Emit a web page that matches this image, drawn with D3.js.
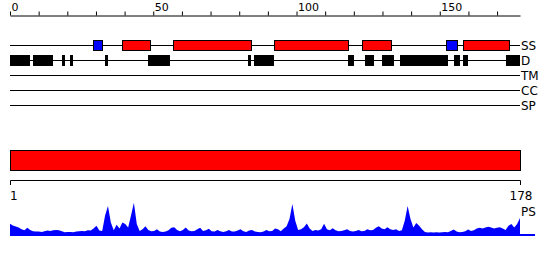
<!DOCTYPE html>
<html>
<head>
<meta charset="utf-8">
<script src="https://cdn.jsdelivr.net/npm/d3@7"></script>
<style>
  body { margin: 0; background: #fff; }
  svg { display: block; font-family: "DejaVu Sans", sans-serif; }
</style>
</head>
<body>
<svg id="chart" width="550" height="260"></svg>
<script>
// sequence length and axis ticks
const seqLength = 178;
const tickValues = d3.range(0, 178, 10);
const tickLabels = [0, 50, 100, 150];

// track names
const tracks = ["SS", "D", "TM", "CC", "SP"];

// secondary structure segments [start, end, type]
const ssStrand = [[29, 32], [152, 156]];
const ssHelix = [[39, 49], [57, 84], [92, 118], [123, 133], [158, 174]];

// disorder segments [start, end]
const disorder = [[0, 7], [8, 15], [18, 19], [21, 22], [33, 34], [48, 56], [83, 84], [85, 92],
  [118, 120], [124, 127], [130, 134], [136, 153], [155, 157], [158, 160], [173, 178]];

// whole-length domain bar
const domainBar = [[0, 178]];
const rangeLabels = ["1", "178"];

// per-residue PS profile, residues 1..178
const psScores = [
  0.36, 0.31, 0.28, 0.25, 0.20, 0.17, 0.24, 0.18, 0.14, 0.13,
  0.13, 0.12, 0.14, 0.16, 0.15, 0.17, 0.18, 0.17, 0.14, 0.11,
  0.12, 0.12, 0.11, 0.13, 0.14, 0.15, 0.14, 0.17, 0.16, 0.22,
  0.30, 0.16, 0.15, 0.60, 0.88, 0.40, 0.17, 0.33, 0.22, 0.40,
  0.35, 0.25, 0.60, 0.98, 0.35, 0.15, 0.20, 0.29, 0.18, 0.14,
  0.15, 0.20, 0.13, 0.12, 0.13, 0.17, 0.24, 0.26, 0.18, 0.14,
  0.18, 0.25, 0.16, 0.14, 0.15, 0.20, 0.24, 0.15, 0.17, 0.21,
  0.14, 0.13, 0.18, 0.14, 0.12, 0.14, 0.18, 0.13, 0.13, 0.16,
  0.20, 0.14, 0.12, 0.16, 0.18, 0.13, 0.12, 0.11, 0.13, 0.18,
  0.14, 0.15, 0.22, 0.20, 0.14, 0.22, 0.29, 0.50, 0.94, 0.45,
  0.18, 0.20, 0.26, 0.37, 0.22, 0.15, 0.18, 0.16, 0.20, 0.36,
  0.20, 0.17, 0.23, 0.17, 0.14, 0.15, 0.17, 0.20, 0.15, 0.13,
  0.15, 0.18, 0.14, 0.15, 0.20, 0.17, 0.18, 0.24, 0.29, 0.22,
  0.20, 0.26, 0.20, 0.18, 0.20, 0.15, 0.17, 0.45, 0.88, 0.50,
  0.25, 0.38, 0.30, 0.20, 0.12, 0.10, 0.11, 0.10, 0.11, 0.10,
  0.11, 0.12, 0.11, 0.15, 0.19, 0.13, 0.11, 0.12, 0.14, 0.19,
  0.15, 0.17, 0.22, 0.24, 0.22, 0.25, 0.27, 0.25, 0.22, 0.24,
  0.26, 0.22, 0.18, 0.30, 0.35, 0.25, 0.35, 0.53
];

const svg = d3.select("#chart");

const x = d3.scaleLinear().domain([0, seqLength]).range([10, 520]);
const trackY = d3.scalePoint().domain(tracks).range([45.5, 105.5]);

// top ruler
const ruler = svg.append("g")
  .attr("transform", "translate(0,15.5)")
  .call(d3.axisTop(x)
    .tickValues(tickValues)
    .tickSize(4)
    .tickSizeOuter(0)
    .tickFormat(d => tickLabels.includes(d) ? d : ""));
ruler.select(".domain").attr("stroke", "#000");
ruler.selectAll(".tick line").attr("stroke", "#000");
ruler.selectAll(".tick text")
  .attr("text-anchor", "start")
  .attr("x", 1)
  .attr("y", -5)
  .attr("fill", "#000")
  .style("font-size", "11px")
  .style("font-family", "DejaVu Sans");

// track lines and labels
const trackG = svg.append("g");
trackG.selectAll("line")
  .data(tracks)
  .join("line")
  .attr("x1", x(0))
  .attr("x2", x(seqLength))
  .attr("y1", d => trackY(d))
  .attr("y2", d => trackY(d))
  .attr("stroke", "#000");
trackG.selectAll("text")
  .data(tracks)
  .join("text")
  .attr("x", x(seqLength) + 1)
  .attr("y", d => trackY(d) + 4.5)
  .style("font-size", "12px")
  .text(d => d);

// SS boxes
svg.append("g").selectAll("rect")
  .data(ssStrand.map(d => ({ s: d[0], e: d[1], c: "#0000ff" }))
    .concat(ssHelix.map(d => ({ s: d[0], e: d[1], c: "#ff0000" }))))
  .join("rect")
  .attr("x", d => Math.round(x(d.s)) + 0.5)
  .attr("width", d => Math.round(x(d.e)) - Math.round(x(d.s)))
  .attr("y", trackY("SS") - 5)
  .attr("height", 10)
  .attr("fill", d => d.c)
  .attr("stroke", "#000");

// disorder boxes
svg.append("g").selectAll("rect")
  .data(disorder)
  .join("rect")
  .attr("x", d => Math.round(x(d[0])))
  .attr("width", d => Math.max(3, Math.round(x(d[1])) - Math.round(x(d[0]))))
  .attr("y", trackY("D") - 5.5)
  .attr("height", 11)
  .attr("fill", "#000");

// domain bar
svg.append("g").selectAll("rect")
  .data(domainBar)
  .join("rect")
  .attr("x", d => x(d[0]) + 0.5)
  .attr("width", d => x(d[1]) - x(d[0]))
  .attr("y", 150.5)
  .attr("height", 20)
  .attr("fill", "#ff0000")
  .attr("stroke", "#000");

// range bracket
const bracket = svg.append("g");
bracket.append("path")
  .attr("d", `M${x(0) + 0.5},185V180.5H${x(seqLength) + 0.5}V185`)
  .attr("fill", "none")
  .attr("stroke", "#000");
bracket.selectAll("text")
  .data(rangeLabels)
  .join("text")
  .attr("x", (d, i) => i === 0 ? x(0) : x(seqLength) + 1)
  .attr("y", 200)
  .attr("text-anchor", (d, i) => i === 0 ? "start" : "middle")
  .style("font-size", "12px")
  .text(d => d);

// PS profile
const px = d3.scaleLinear().domain([1, seqLength]).range([10, 520]);
const py = d3.scaleLinear().domain([0, 1]).range([236, 202]);

svg.append("path")
  .datum(psScores)
  .attr("fill", "#0000ff")
  .attr("d", d3.area()
    .x((d, i) => px(i + 1))
    .y0(py(0))
    .y1(d => py(d)));

svg.append("line")
  .attr("x1", px(1))
  .attr("x2", 535)
  .attr("y1", py(0) - 1)
  .attr("y2", py(0) - 1)
  .attr("stroke", "#0000ff")
  .attr("stroke-width", 2);

svg.append("text")
  .attr("x", x(seqLength) + 1)
  .attr("y", 216)
  .style("font-size", "12px")
  .text("PS");
</script>
</body>
</html>
